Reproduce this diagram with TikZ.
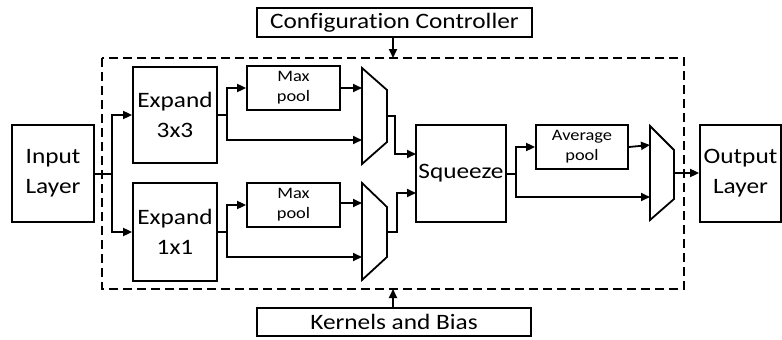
\documentclass[tikz,border=0pt]{standalone}
\usepackage{fontspec}
\setmainfont[FakeStretch=1.15,Ligatures={NoCommon}]{Carlito}
\usetikzlibrary{arrows.meta}
\begin{document}
\begin{tikzpicture}[x=1pt,y=-1pt,
  line width=1.8pt,
  box/.style={draw, align=center, inner sep=0pt, font=\fontsize{22}{30}\selectfont},
  small/.style={draw, align=center, inner sep=0pt, font=\fontsize{16}{20}\selectfont},
  arr/.style={-{Triangle[length=9pt,width=8pt]}},
  mux/.style={draw, line join=miter}
]
\useasboundingbox (0,0) rectangle (782,340);
% dashed region
\draw[dash pattern=on 9pt off 5pt, line width=1.6pt] (102,58) rectangle (684,289);
% boxes
\node[box, minimum width=82pt, minimum height=97pt] (in) at (53,173.5) {Input\\Layer};
\node[box, minimum width=84pt, minimum height=96pt] (e3) at (175,115) {Expand\\3x3};
\node[box, minimum width=84pt, minimum height=98pt] (e1) at (175,232) {Expand\\1x1};
\node[small, minimum width=93pt, minimum height=44pt] (mp1) at (293.5,88) {Max\\pool};
\node[small, minimum width=93pt, minimum height=44pt] (mp2) at (293.5,205) {Max\\pool};
\node[box, minimum width=90pt, minimum height=97pt] (sq) at (461,173.5) {Squeeze};
\node[small, minimum width=92pt, minimum height=44pt] (ap) at (582,147) {Average\\pool};
\node[box, minimum width=81pt, minimum height=97pt] (out) at (740.5,173.5) {Output\\Layer};
\node[box, minimum width=275pt, minimum height=29pt] (cc) at (394.5,22.5) {Configuration Controller};
\node[box, minimum width=274pt, minimum height=28pt] (kb) at (394,322) {Kernels and Bias};
% muxes
\coordinate (m1a) at (362,88); \coordinate (m1b) at (362,140); \coordinate (m1o) at (387,116);
\coordinate (m2a) at (362,203); \coordinate (m2b) at (362,257); \coordinate (m2o) at (387,232);
\coordinate (m3a) at (650,145); \coordinate (m3b) at (650,197); \coordinate (m3o) at (674,173);
\draw[mux] (362,68) -- (387,90) -- (387,142) -- (362,164) -- cycle;
\draw[mux] (362,183) -- (387,207) -- (387,257) -- (362,280) -- cycle;
\draw[mux] (650,126) -- (674,150) -- (674,199) -- (650,220) -- cycle;
% dashed region connections
\coordinate (ct) at (393,58);
\coordinate (cb) at (393,289);
\draw[arr] (cc.south -| ct) -- (ct);
\draw[arr] (kb.north -| cb) -- (cb);
% input fan-out
\coordinate (j0) at (112,174);
\draw (in.east |- j0) -- (j0);
\draw[arr] (j0) |- (e3.west);
\draw[arr] (j0) |- (e1.west);
% expand 3x3
\coordinate (j1) at (227,115);
\draw (e3.east) -- (j1);
\draw[arr] (j1) |- (mp1.west);
\draw[arr] (j1) |- (m1b);
\draw[arr] (mp1.east) -- (m1a);
% expand 1x1
\coordinate (j2) at (227,232);
\draw (e1.east) -- (j2);
\draw[arr] (j2) |- (mp2.west);
\draw[arr] (j2) |- (m2b);
\draw[arr] (mp2.east |- m2a) -- (m2a);
% mux to squeeze
\coordinate (s1) at (416,154);
\coordinate (s2) at (416,193);
\draw[arr] (m1o) -- (395,116) |- (s1);
\draw[arr] (m2o) -- (397,232) |- (s2);
% squeeze out
\coordinate (j3) at (516,174);
\draw (sq.east |- j3) -- (j3);
\draw[arr] (j3) |- (ap.west);
\draw[arr] (j3) |- (m3b);
\draw[arr] (ap.east) -- (m3a);
\draw[arr] (m3o) -- (out.west |- m3o);
\end{tikzpicture}
\end{document}
